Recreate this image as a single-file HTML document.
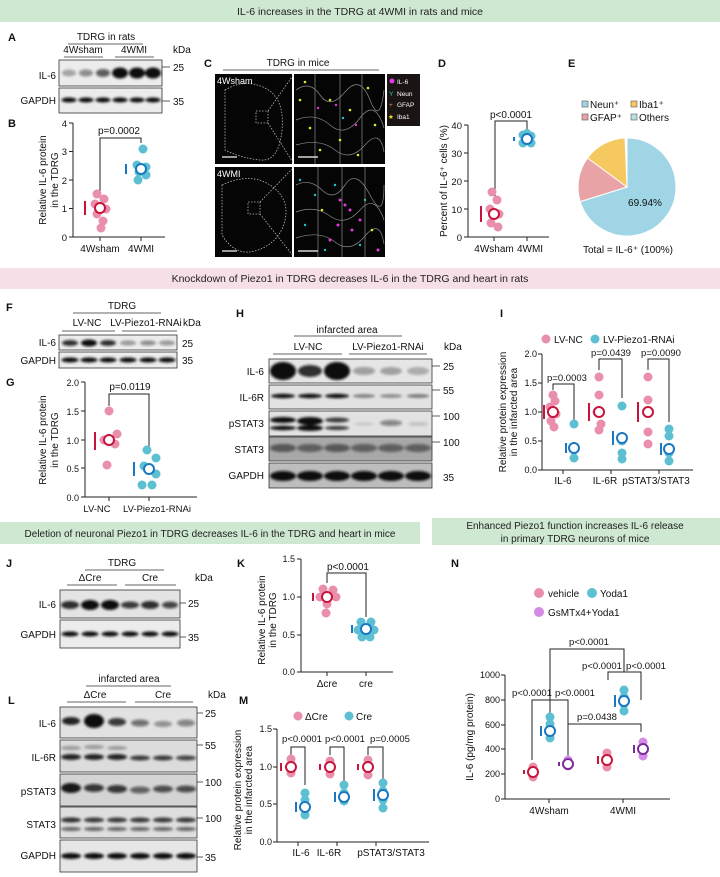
<!DOCTYPE html>
<html><head><meta charset="utf-8"><style>
html,body{margin:0;padding:0;background:#fff}
svg{display:block;font-family:"Liberation Sans",Arial,sans-serif}
</style></head><body>
<svg width="720" height="877" viewBox="0 0 720 877" xmlns="http://www.w3.org/2000/svg">
<defs>
<filter id="bl" x="-50%" y="-100%" width="200%" height="300%"><feGaussianBlur stdDeviation="1.3"/></filter>
</defs>
<rect x="0" y="0" width="720" height="22" fill="#cfe8d1"/>
<text x="360" y="15" font-size="10.5" text-anchor="middle" fill="#222">IL-6 increases in the TDRG at 4WMI in rats and mice</text>
<rect x="0" y="268" width="720" height="21" fill="#f7dfe7"/>
<text x="350" y="282" font-size="10.5" text-anchor="middle" fill="#222">Knockdown of Piezo1 in TDRG decreases IL-6 in the TDRG and heart in rats</text>
<rect x="0" y="522" width="420" height="22" fill="#cfe8d1"/>
<text x="210" y="537" font-size="10" text-anchor="middle" fill="#222">Deletion of neuronal Piezo1 in TDRG decreases IL-6 in the TDRG and heart in mice</text>
<rect x="432" y="518" width="288" height="27" fill="#cfe8d1"/>
<text x="575" y="529" font-size="10" text-anchor="middle" fill="#222">Enhanced Piezo1 function increases IL-6 release</text>
<text x="575" y="542" font-size="10" text-anchor="middle" fill="#222">in primary TDRG neurons of mice</text>

<g font-size="10" fill="#111">
<g font-weight="bold" font-size="11">
<text x="8" y="41">A</text><text x="8" y="127">B</text><text x="204" y="67">C</text><text x="438" y="67">D</text><text x="568" y="67">E</text>
<text x="6" y="311">F</text><text x="6" y="386">G</text><text x="236" y="317">H</text><text x="500" y="317">I</text>
<text x="6" y="567">J</text><text x="237" y="567">K</text><text x="8" y="704">L</text><text x="239" y="704">M</text><text x="451" y="567">N</text>
</g>

<!-- A blot -->
<text x="106" y="40" text-anchor="middle">TDRG in rats</text>
<line x1="68" y1="44" x2="143" y2="44" stroke="#333" stroke-width=".8"/>
<text x="83" y="53" text-anchor="middle">4Wsham</text><text x="134" y="53" text-anchor="middle">4WMI</text>
<line x1="64" y1="57" x2="103" y2="57" stroke="#333" stroke-width=".8"/><line x1="115" y1="57" x2="154" y2="57" stroke="#333" stroke-width=".8"/>
<text x="173" y="53">kDa</text>
<rect x="59" y="60" width="103" height="26" fill="#ececec" stroke="#333" stroke-width=".8"/>
<rect x="59" y="88" width="103" height="25" fill="#ececec" stroke="#333" stroke-width=".8"/>
<g filter="url(#bl)" fill="#111">
<ellipse cx="69" cy="73" rx="7" ry="3.5" opacity=".3"/><ellipse cx="86" cy="73" rx="7" ry="3.5" opacity=".45"/><ellipse cx="103" cy="73" rx="7" ry="4" opacity=".65"/>
<ellipse cx="120" cy="73" rx="8" ry="5.5"/><ellipse cx="137" cy="73" rx="8" ry="5.5"/><ellipse cx="153" cy="73" rx="8" ry="5.5"/>
<ellipse cx="69" cy="100" rx="7.5" ry="2.5"/><ellipse cx="86" cy="100" rx="7.5" ry="2.5"/><ellipse cx="103" cy="100" rx="7.5" ry="2.5"/><ellipse cx="120" cy="100" rx="7.5" ry="2.5"/><ellipse cx="137" cy="100" rx="7.5" ry="2.5"/><ellipse cx="153" cy="100" rx="7.5" ry="2.5"/>
</g>
<text x="56" y="79" text-anchor="end">IL-6</text><text x="56" y="104" text-anchor="end">GAPDH</text>
<line x1="162" y1="67" x2="170" y2="67" stroke="#333" stroke-width=".8"/><text x="173" y="71">25</text>
<line x1="162" y1="101" x2="170" y2="101" stroke="#333" stroke-width=".8"/><text x="173" y="105">35</text>

<!-- B chart -->
<g stroke="#222" stroke-width="1" fill="none">
<path d="M73 123V237H165"/>
<path d="M69 123H73M69 151.5H73M69 180H73M69 208.5H73M69 237H73M100 237V241M141 237V241"/>
<path d="M100 197V138H141V143"/>
</g>
<g font-size="9.5" text-anchor="end"><text x="67" y="127">4</text><text x="67" y="155">3</text><text x="67" y="184">2</text><text x="67" y="212">1</text><text x="67" y="241">0</text></g>
<text x="100" y="252" text-anchor="middle">4Wsham</text><text x="141" y="252" text-anchor="middle">4WMI</text>
<text x="119" y="134" text-anchor="middle">p=0.0002</text>
<text transform="translate(46,180) rotate(-90)" text-anchor="middle">Relative IL-6 protein</text>
<text transform="translate(58,180) rotate(-90)" text-anchor="middle">in the TDRG</text>
<g fill="#e98fab"><circle cx="97" cy="194" r="4.5"/><circle cx="104" cy="199" r="4.5"/><circle cx="95" cy="204" r="4.5"/><circle cx="106" cy="209" r="4.5"/><circle cx="97" cy="214" r="4.5"/><circle cx="103" cy="221" r="4.5"/><circle cx="101" cy="228" r="4.5"/></g>
<g fill="#5cc0d2"><circle cx="143" cy="149" r="4.5"/><circle cx="137" cy="165" r="4.5"/><circle cx="146" cy="167" r="4.5"/><circle cx="139" cy="172" r="4.5"/><circle cx="146" cy="175" r="4.5"/><circle cx="138" cy="180" r="4.5"/></g>
<circle cx="100" cy="208" r="5" fill="#fff" stroke="#c8143c" stroke-width="2"/><line x1="85" y1="201" x2="85" y2="215" stroke="#c8143c" stroke-width="2"/>
<circle cx="141" cy="169" r="5" fill="#fff" stroke="#1a78c2" stroke-width="2"/><line x1="126" y1="164" x2="126" y2="174" stroke="#1a78c2" stroke-width="2"/>

<!-- C images -->
<text x="298" y="66" text-anchor="middle">TDRG in mice</text>
<line x1="223" y1="70" x2="379" y2="70" stroke="#333" stroke-width=".8"/>
<rect x="215" y="74" width="77" height="90" fill="#050505"/>
<rect x="294" y="74" width="91" height="90" fill="#050505"/>
<rect x="215" y="167" width="77" height="90" fill="#050505"/>
<rect x="294" y="167" width="91" height="90" fill="#050505"/>
<g fill="none" stroke="#bbb" stroke-width=".8" stroke-dasharray="1.5,1.5">
<path d="M225 90Q245 78 265 88T282 130T260 160T225 150Z"/>
<path d="M222 185Q250 172 270 185T285 220T258 250T222 235Z"/>
<rect x="256" y="111" width="12" height="12"/><rect x="248" y="202" width="12" height="12"/>
<path d="M268 111L294 74M268 123L294 164M260 202L294 167M260 214L294 257"/>
</g>
<g stroke="#8a8a8a" stroke-width=".7" fill="none">
<path d="M296 90Q310 80 320 95T345 92T370 100T384 90M296 120Q315 112 330 125T360 118T384 128M296 145Q320 138 335 150T365 145T384 152M315 74V164M340 74V164M362 74V164"/>
<path d="M296 185Q310 178 322 190T345 185T370 195T384 185M296 212Q315 205 330 216T360 210T384 220M296 238Q320 230 335 242T365 236T384 244M318 167V257M342 167V257M365 167V257"/>
</g>
<g fill="#e6e62a"><circle cx="305" cy="82" r="1.3"/><circle cx="330" cy="100" r="1.3"/><circle cx="350" cy="110" r="1.3"/><circle cx="368" cy="88" r="1.3"/><circle cx="310" cy="128" r="1.3"/><circle cx="340" cy="140" r="1.3"/><circle cx="375" cy="125" r="1.3"/><circle cx="320" cy="150" r="1.3"/><circle cx="358" cy="155" r="1.3"/><circle cx="300" cy="100" r="1.3"/><circle cx="322" cy="210" r="1.3"/><circle cx="372" cy="230" r="1.3"/></g>
<g fill="#e03ae0"><circle cx="318" cy="108" r="1.2"/><circle cx="336" cy="105" r="1.2"/><circle cx="356" cy="125" r="1.2"/><circle cx="340" cy="200" r="1.5"/><circle cx="345" cy="205" r="1.5"/><circle cx="350" cy="210" r="1.5"/><circle cx="352" cy="230" r="1.5"/><circle cx="330" cy="240" r="1.5"/><circle cx="360" cy="220" r="1.5"/><circle cx="378" cy="250" r="1.5"/><circle cx="338" cy="225" r="1.5"/></g>
<g fill="#20c8c8"><circle cx="300" cy="180" r="1.2"/><circle cx="315" cy="195" r="1.2"/><circle cx="335" cy="185" r="1.2"/><circle cx="365" cy="200" r="1.2"/><circle cx="305" cy="225" r="1.2"/><circle cx="325" cy="250" r="1.2"/><circle cx="360" cy="245" r="1.2"/><circle cx="343" cy="118" r="1.2"/></g>
<text x="217" y="84" fill="#fff" font-size="9">4Wsham</text><text x="217" y="177" fill="#fff" font-size="9">4WMI</text>
<g stroke="#fff" stroke-width="1.2"><line x1="222" y1="157" x2="237" y2="157"/><line x1="222" y1="251" x2="237" y2="251"/><line x1="298" y1="157" x2="318" y2="157"/><line x1="298" y1="251" x2="318" y2="251"/></g>
<rect x="387" y="74" width="33" height="52" fill="#1a1412"/>
<g font-size="6.5" fill="#fff"><circle cx="392" cy="81" r="2.5" fill="#e03ae0"/><text x="397" y="84">IL-6</text>
<text x="389" y="96" fill="#20c8c8">Y</text><text x="397" y="96">Neun</text>
<text x="389" y="107" fill="#e88a6a">+</text><text x="397" y="107">GFAP</text>
<text x="388" y="119" fill="#f0e020">★</text><text x="397" y="119">Iba1</text></g>

<!-- D chart -->
<g stroke="#222" stroke-width="1" fill="none">
<path d="M468 125V237H549"/>
<path d="M464 125H468M464 153H468M464 181H468M464 209H468M464 237H468M494 237V241M527 237V241"/>
<path d="M495 200V121H527V130"/>
</g>
<g font-size="9.5" text-anchor="end"><text x="462" y="129">40</text><text x="462" y="157">30</text><text x="462" y="185">20</text><text x="462" y="213">10</text><text x="462" y="241">0</text></g>
<text x="494" y="252" text-anchor="middle">4Wsham</text><text x="530" y="252" text-anchor="middle">4WMI</text>
<text x="511" y="118" text-anchor="middle">p&lt;0.0001</text>
<text transform="translate(447,181) rotate(-90)" text-anchor="middle">Percent of IL-6⁺ cells (%)</text>
<g fill="#e98fab"><circle cx="492" cy="192" r="4.5"/><circle cx="497" cy="200" r="4.5"/><circle cx="490" cy="209" r="4.5"/><circle cx="499" cy="214" r="4.5"/><circle cx="491" cy="223" r="4.5"/><circle cx="498" cy="227" r="4.5"/></g>
<g fill="#5cc0d2"><circle cx="523" cy="135" r="4.5"/><circle cx="531" cy="136" r="4.5"/><circle cx="523" cy="143" r="4.5"/><circle cx="531" cy="143" r="4.5"/><circle cx="527" cy="133" r="4"/></g>
<circle cx="494" cy="214" r="5" fill="#fff" stroke="#c8143c" stroke-width="2"/><line x1="481" y1="206" x2="481" y2="222" stroke="#c8143c" stroke-width="2"/>
<circle cx="527" cy="139" r="5" fill="#fff" stroke="#1a78c2" stroke-width="2"/><line x1="514" y1="137" x2="514" y2="141" stroke="#1a78c2" stroke-width="2"/>

<!-- E pie -->
<g font-size="10">
<rect x="582" y="101" width="6" height="6" fill="#9fd4e4" stroke="#555" stroke-width=".6"/><text x="590" y="108">Neun⁺</text>
<rect x="631" y="101" width="6" height="6" fill="#f5c860" stroke="#555" stroke-width=".6"/><text x="639" y="108">Iba1⁺</text>
<rect x="582" y="114" width="6" height="6" fill="#e9a3a6" stroke="#555" stroke-width=".6"/><text x="590" y="121">GFAP⁺</text>
<rect x="631" y="114" width="6" height="6" fill="#b9dfe0" stroke="#555" stroke-width=".6"/><text x="639" y="121">Others</text>
</g>
<path d="M627 187L627 138A49 49 0 1 1 580.2 201.6Z" fill="#a0d5e5" stroke="#fff" stroke-width="1"/>
<path d="M627 187L580.2 201.6A49 49 0 0 1 587.6 158.0Z" fill="#e9a3a6" stroke="#fff" stroke-width="1"/>
<path d="M627 187L587.6 158.0A49 49 0 0 1 625 138Z" fill="#f5c860" stroke="#fff" stroke-width="1"/>
<text x="645" y="206" text-anchor="middle">69.94%</text>
<text x="628" y="253" text-anchor="middle">Total = IL-6⁺ (100%)</text>

<!-- F blot -->
<text x="122" y="309" text-anchor="middle">TDRG</text>
<line x1="73" y1="313" x2="161" y2="313" stroke="#333" stroke-width=".8"/>
<text x="87" y="326" text-anchor="middle">LV-NC</text><text x="146" y="326" text-anchor="middle">LV-Piezo1-RNAi</text><text x="183" y="326">kDa</text>
<line x1="62" y1="331" x2="115" y2="331" stroke="#333" stroke-width=".8"/><line x1="122" y1="331" x2="177" y2="331" stroke="#333" stroke-width=".8"/>
<rect x="59" y="335" width="118" height="15" fill="#ececec" stroke="#333" stroke-width=".8"/>
<rect x="59" y="352" width="118" height="16" fill="#ececec" stroke="#333" stroke-width=".8"/>
<g filter="url(#bl)" fill="#111">
<ellipse cx="70" cy="343" rx="8" ry="3" opacity=".85"/><ellipse cx="89" cy="343" rx="8" ry="3.5"/><ellipse cx="108" cy="343" rx="8" ry="3" opacity=".85"/><ellipse cx="128" cy="343" rx="8" ry="2.5" opacity=".4"/><ellipse cx="148" cy="343" rx="8" ry="2.5" opacity=".45"/><ellipse cx="167" cy="343" rx="8" ry="2.5" opacity=".4"/>
<ellipse cx="70" cy="360" rx="8.5" ry="2.5"/><ellipse cx="89" cy="360" rx="8.5" ry="2.5"/><ellipse cx="108" cy="360" rx="8.5" ry="2.5"/><ellipse cx="128" cy="360" rx="8.5" ry="2.5"/><ellipse cx="148" cy="360" rx="8.5" ry="2.5"/><ellipse cx="167" cy="360" rx="8.5" ry="2.5"/>
</g>
<text x="56" y="346" text-anchor="end">IL-6</text><text x="56" y="364" text-anchor="end">GAPDH</text>
<text x="182" y="347">25</text><text x="182" y="364">35</text>

<!-- G chart -->
<g stroke="#222" stroke-width="1" fill="none">
<path d="M85 382V497H197"/>
<path d="M81 382H85M81 411H85M81 440H85M81 468H85M81 497H85M109 497V501M149 497V501"/>
<path d="M109 406V394H149V447"/>
</g>
<g font-size="9" text-anchor="end"><text x="79" y="386">2.0</text><text x="79" y="415">1.5</text><text x="79" y="444">1.0</text><text x="79" y="472">0.5</text><text x="79" y="501">0.0</text></g>
<text x="97" y="512" text-anchor="middle" font-size="9.5">LV-NC</text><text x="157" y="512" text-anchor="middle" font-size="9.5">LV-Piezo1-RNAi</text>
<text x="130" y="390" text-anchor="middle">p=0.0119</text>
<text transform="translate(46,440) rotate(-90)" text-anchor="middle">Relative IL-6  protein</text>
<text transform="translate(58,440) rotate(-90)" text-anchor="middle">in the TDRG</text>
<g fill="#e98fab"><circle cx="109" cy="411" r="4.5"/><circle cx="117" cy="434" r="4.5"/><circle cx="104" cy="440" r="4.5"/><circle cx="115" cy="444" r="4.5"/><circle cx="107" cy="465" r="4.5"/></g>
<g fill="#5cc0d2"><circle cx="147" cy="450" r="4.5"/><circle cx="156" cy="458" r="4.5"/><circle cx="144" cy="466" r="4.5"/><circle cx="156" cy="474" r="4.5"/><circle cx="142" cy="485" r="4.5"/><circle cx="152" cy="485" r="4.5"/></g>
<circle cx="109" cy="440" r="5" fill="#fff" stroke="#c8143c" stroke-width="2"/><line x1="95" y1="432" x2="95" y2="450" stroke="#c8143c" stroke-width="2"/>
<circle cx="149" cy="469" r="5" fill="#fff" stroke="#1a78c2" stroke-width="2"/><line x1="134" y1="462" x2="134" y2="476" stroke="#1a78c2" stroke-width="2"/>

<!-- H blot -->
<text x="347" y="333" text-anchor="middle">infarcted area</text>
<line x1="294" y1="336" x2="402" y2="336" stroke="#333" stroke-width=".8"/>
<text x="308" y="350" text-anchor="middle">LV-NC</text><text x="388" y="350" text-anchor="middle">LV-Piezo1-RNAi</text><text x="444" y="350">kDa</text>
<line x1="273" y1="354" x2="342" y2="354" stroke="#333" stroke-width=".8"/><line x1="349" y1="354" x2="427" y2="354" stroke="#333" stroke-width=".8"/>
<rect x="269" y="359" width="163" height="24" fill="#e6e6e6" stroke="#333" stroke-width=".8"/>
<rect x="269" y="385" width="163" height="24" fill="#e2e2e2" stroke="#333" stroke-width=".8"/>
<rect x="269" y="411" width="163" height="25" fill="#e2e2e2" stroke="#333" stroke-width=".8"/>
<rect x="269" y="437" width="163" height="24" fill="#a8a8a8" stroke="#333" stroke-width=".8"/>
<rect x="269" y="463" width="163" height="25" fill="#bdbdbd" stroke="#333" stroke-width=".8"/>
<g filter="url(#bl)" fill="#111">
<ellipse cx="283" cy="371" rx="13" ry="9"/><ellipse cx="310" cy="371" rx="12" ry="6" opacity=".85"/><ellipse cx="337" cy="371" rx="13" ry="9"/><ellipse cx="364" cy="371" rx="11" ry="4" opacity=".35"/><ellipse cx="391" cy="371" rx="11" ry="4" opacity=".3"/><ellipse cx="418" cy="371" rx="11" ry="4" opacity=".25"/>
<ellipse cx="283" cy="396" rx="12" ry="2.2"/><ellipse cx="310" cy="396" rx="12" ry="2.2"/><ellipse cx="337" cy="396" rx="12" ry="2.2"/><ellipse cx="364" cy="396" rx="11" ry="1.8" opacity=".5"/><ellipse cx="391" cy="396" rx="11" ry="1.8" opacity=".45"/><ellipse cx="418" cy="396" rx="11" ry="1.8" opacity=".55"/>
<ellipse cx="283" cy="420" rx="13" ry="3"/><ellipse cx="310" cy="421" rx="13" ry="4"/><ellipse cx="337" cy="420" rx="12" ry="2.5" opacity=".8"/><ellipse cx="283" cy="428" rx="13" ry="2.2"/><ellipse cx="310" cy="428" rx="13" ry="3"/><ellipse cx="337" cy="428" rx="12" ry="2" opacity=".8"/>
<ellipse cx="364" cy="424" rx="10" ry="2" opacity=".1"/><ellipse cx="391" cy="423" rx="11" ry="3" opacity=".45"/><ellipse cx="418" cy="424" rx="10" ry="2" opacity=".15"/>
<ellipse cx="283" cy="448" rx="13" ry="4" opacity=".55"/><ellipse cx="310" cy="448" rx="13" ry="4" opacity=".5"/><ellipse cx="337" cy="448" rx="13" ry="4" opacity=".55"/><ellipse cx="364" cy="448" rx="13" ry="4" opacity=".5"/><ellipse cx="391" cy="448" rx="13" ry="4" opacity=".5"/><ellipse cx="418" cy="448" rx="13" ry="4" opacity=".5"/>
<ellipse cx="283" cy="476" rx="13" ry="5"/><ellipse cx="310" cy="476" rx="13" ry="5"/><ellipse cx="337" cy="476" rx="13" ry="5"/><ellipse cx="364" cy="476" rx="13" ry="5"/><ellipse cx="391" cy="476" rx="13" ry="5"/><ellipse cx="418" cy="476" rx="13" ry="5"/>
</g>
<g text-anchor="end"><text x="264" y="375">IL-6</text><text x="264" y="401">IL-6R</text><text x="264" y="427">pSTAT3</text><text x="264" y="453">STAT3</text><text x="264" y="479">GAPDH</text></g>
<g stroke="#333" stroke-width=".8"><line x1="432" y1="366" x2="440" y2="366"/><line x1="432" y1="390" x2="440" y2="390"/><line x1="432" y1="416" x2="440" y2="416"/><line x1="432" y1="442" x2="440" y2="442"/></g>
<text x="443" y="370">25</text><text x="443" y="394">55</text><text x="443" y="420">100</text><text x="443" y="446">100</text><text x="443" y="481">35</text>

<!-- I chart -->
<circle cx="546" cy="339" r="4.5" fill="#e98fab"/><text x="554" y="343">LV-NC</text>
<circle cx="595" cy="339" r="4.5" fill="#5cc0d2"/><text x="603" y="343">LV-Piezo1-RNAi</text>
<g stroke="#222" stroke-width="1" fill="none">
<path d="M542 354V470H693"/>
<path d="M538 354H542M538 383H542M538 412H542M538 441H542M538 470H542M563 470V474M611 470V474M659 470V474"/>
<path d="M553 390V384H574V420M599 370V359H622V398M648 370V359H669V422"/>
</g>
<g font-size="9" text-anchor="end"><text x="537" y="357">2.0</text><text x="537" y="386">1.5</text><text x="537" y="415">1.0</text><text x="537" y="444">0.5</text><text x="537" y="473">0.0</text></g>
<text x="563" y="484" text-anchor="middle">IL-6</text><text x="605" y="484" text-anchor="middle">IL-6R</text><text x="656" y="484" text-anchor="middle">pSTAT3/STAT3</text>
<g font-size="9.5" text-anchor="middle"><text x="567" y="381">p=0.0003</text><text x="611" y="356">p=0.0439</text><text x="661" y="356">p=0.0090</text></g>
<text transform="translate(506,412) rotate(-90)" text-anchor="middle">Relative  protein expression</text>
<text transform="translate(517,412) rotate(-90)" text-anchor="middle">in the infarcted area</text>
<g fill="#e98fab"><circle cx="553" cy="395" r="4.5"/><circle cx="555" cy="401" r="4.5"/><circle cx="550" cy="407" r="4.5"/><circle cx="556" cy="414" r="4.5"/><circle cx="551" cy="421" r="4.5"/><circle cx="554" cy="427" r="4.5"/>
<circle cx="599" cy="377" r="4.5"/><circle cx="599" cy="395" r="4.5"/><circle cx="597" cy="412" r="4.5"/><circle cx="601" cy="424" r="4.5"/><circle cx="599" cy="430" r="4.5"/>
<circle cx="648" cy="377" r="4.5"/><circle cx="648" cy="400" r="4.5"/><circle cx="648" cy="432" r="4.5"/><circle cx="648" cy="444" r="4.5"/></g>
<g fill="#5cc0d2"><circle cx="574" cy="424" r="4.5"/><circle cx="574" cy="450" r="4.5"/><circle cx="574" cy="458" r="4.5"/>
<circle cx="622" cy="406" r="4.5"/><circle cx="622" cy="441" r="4.5"/><circle cx="622" cy="453" r="4.5"/><circle cx="622" cy="459" r="4.5"/>
<circle cx="669" cy="429" r="4.5"/><circle cx="669" cy="436" r="4.5"/><circle cx="669" cy="453" r="4.5"/><circle cx="669" cy="461" r="4.5"/></g>
<g fill="#fff" stroke="#c8143c" stroke-width="2"><circle cx="553" cy="412" r="5"/><circle cx="599" cy="412" r="5"/><circle cx="648" cy="412" r="5"/></g>
<g stroke="#c8143c" stroke-width="2"><line x1="544" y1="405" x2="544" y2="419"/><line x1="589" y1="403" x2="589" y2="421"/><line x1="638" y1="402" x2="638" y2="422"/></g>
<g fill="#fff" stroke="#1a78c2" stroke-width="2"><circle cx="574" cy="448" r="5"/><circle cx="622" cy="438" r="5"/><circle cx="669" cy="449" r="5"/></g>
<g stroke="#1a78c2" stroke-width="2"><line x1="566" y1="443" x2="566" y2="453"/><line x1="613" y1="431" x2="613" y2="445"/><line x1="661" y1="443" x2="661" y2="455"/></g>

<!-- J blot -->
<text x="122" y="566" text-anchor="middle">TDRG</text>
<line x1="85" y1="570" x2="164" y2="570" stroke="#333" stroke-width=".8"/>
<text x="90" y="581" text-anchor="middle">ΔCre</text><text x="150" y="581" text-anchor="middle">Cre</text><text x="195" y="581">kDa</text>
<line x1="67" y1="585" x2="117" y2="585" stroke="#333" stroke-width=".8"/><line x1="125" y1="585" x2="176" y2="585" stroke="#333" stroke-width=".8"/>
<rect x="60" y="590" width="120" height="28" fill="#e4e4e4" stroke="#333" stroke-width=".8"/>
<rect x="60" y="620" width="120" height="28" fill="#ececec" stroke="#333" stroke-width=".8"/>
<g filter="url(#bl)" fill="#111">
<ellipse cx="70" cy="605" rx="9" ry="4" opacity=".85"/><ellipse cx="90" cy="605" rx="9" ry="5"/><ellipse cx="110" cy="605" rx="9" ry="5"/><ellipse cx="130" cy="605" rx="9" ry="3.5" opacity=".8"/><ellipse cx="150" cy="605" rx="9" ry="4" opacity=".85"/><ellipse cx="170" cy="605" rx="8" ry="3.5" opacity=".75"/>
<ellipse cx="70" cy="634" rx="8.5" ry="2.5"/><ellipse cx="90" cy="634" rx="8.5" ry="2.5"/><ellipse cx="110" cy="634" rx="8.5" ry="2.5"/><ellipse cx="130" cy="634" rx="8.5" ry="2.5"/><ellipse cx="150" cy="634" rx="8.5" ry="2.5"/><ellipse cx="170" cy="634" rx="8.5" ry="2.5"/>
</g>
<text x="56" y="608" text-anchor="end">IL-6</text><text x="56" y="638" text-anchor="end">GAPDH</text>
<line x1="180" y1="603" x2="186" y2="603" stroke="#333" stroke-width=".8"/><text x="188" y="607">25</text>
<line x1="180" y1="637" x2="186" y2="637" stroke="#333" stroke-width=".8"/><text x="188" y="641">35</text>

<!-- K chart -->
<g stroke="#222" stroke-width="1" fill="none">
<path d="M301 559V672H393"/>
<path d="M297 559H301M297 597H301M297 635H301M297 672H301M327 672V676M366 672V676"/>
<path d="M327 583V573H366V617"/>
</g>
<g font-size="9" text-anchor="end"><text x="295" y="562">1.5</text><text x="295" y="600">1.0</text><text x="295" y="638">0.5</text><text x="295" y="675">0.0</text></g>
<text x="327" y="687" text-anchor="middle">Δcre</text><text x="366" y="687" text-anchor="middle">cre</text>
<text x="348" y="570" text-anchor="middle">p&lt;0.0001</text>
<text transform="translate(265,620) rotate(-90)" text-anchor="middle">Relative IL-6 protein</text>
<text transform="translate(276,620) rotate(-90)" text-anchor="middle">in the TDRG</text>
<g fill="#e98fab"><circle cx="323" cy="589" r="4.5"/><circle cx="333" cy="590" r="4.5"/><circle cx="320" cy="597" r="4.5"/><circle cx="336" cy="597" r="4.5"/><circle cx="327" cy="604" r="4.5"/><circle cx="326" cy="613" r="4.5"/></g>
<g fill="#5cc0d2"><circle cx="361" cy="622" r="4.5"/><circle cx="371" cy="622" r="4.5"/><circle cx="358" cy="630" r="4.5"/><circle cx="374" cy="630" r="4.5"/><circle cx="362" cy="637" r="4.5"/><circle cx="370" cy="637" r="4.5"/></g>
<circle cx="327" cy="597" r="5" fill="#fff" stroke="#c8143c" stroke-width="2"/><line x1="313" y1="593" x2="313" y2="601" stroke="#c8143c" stroke-width="2"/>
<circle cx="366" cy="629" r="5" fill="#fff" stroke="#1a78c2" stroke-width="2"/><line x1="352" y1="625" x2="352" y2="633" stroke="#1a78c2" stroke-width="2"/>

<!-- L blot -->
<text x="129" y="682" text-anchor="middle">infarcted area</text>
<line x1="86" y1="686" x2="171" y2="686" stroke="#333" stroke-width=".8"/>
<text x="95" y="698" text-anchor="middle">ΔCre</text><text x="163" y="698" text-anchor="middle">Cre</text><text x="208" y="698">kDa</text>
<line x1="67" y1="702" x2="126" y2="702" stroke="#333" stroke-width=".8"/><line x1="135" y1="702" x2="193" y2="702" stroke="#333" stroke-width=".8"/>
<rect x="60" y="707" width="137" height="31" fill="#e2e2e2" stroke="#333" stroke-width=".8"/>
<rect x="60" y="740" width="137" height="32" fill="#dcdcdc" stroke="#333" stroke-width=".8"/>
<rect x="60" y="774" width="137" height="32" fill="#d4d4d4" stroke="#333" stroke-width=".8"/>
<rect x="60" y="807" width="137" height="31" fill="#dedede" stroke="#333" stroke-width=".8"/>
<rect x="60" y="840" width="137" height="32" fill="#e6e6e6" stroke="#333" stroke-width=".8"/>
<g filter="url(#bl)" fill="#111">
<ellipse cx="71" cy="721" rx="9" ry="4" opacity=".9"/><ellipse cx="94" cy="721" rx="10" ry="7"/><ellipse cx="117" cy="722" rx="9" ry="4" opacity=".8"/><ellipse cx="140" cy="723" rx="9" ry="3.5" opacity=".55"/><ellipse cx="163" cy="724" rx="9" ry="3" opacity=".4"/><ellipse cx="186" cy="723" rx="9" ry="3.5" opacity=".45"/>
<ellipse cx="71" cy="748" rx="10" ry="2" opacity=".35"/><ellipse cx="94" cy="747" rx="10" ry="2" opacity=".35"/><ellipse cx="117" cy="748" rx="10" ry="2" opacity=".3"/>
<ellipse cx="71" cy="757" rx="10" ry="3" opacity=".9"/><ellipse cx="94" cy="757" rx="10" ry="3" opacity=".9"/><ellipse cx="117" cy="757" rx="10" ry="3" opacity=".9"/><ellipse cx="140" cy="758" rx="10" ry="2.5" opacity=".8"/><ellipse cx="163" cy="758" rx="10" ry="2.5" opacity=".8"/><ellipse cx="186" cy="758" rx="10" ry="2.5" opacity=".75"/>
<ellipse cx="71" cy="788" rx="10" ry="5" opacity=".95"/><ellipse cx="94" cy="788" rx="10" ry="4" opacity=".8"/><ellipse cx="117" cy="789" rx="10" ry="4" opacity=".8"/><ellipse cx="140" cy="790" rx="10" ry="3.5" opacity=".6"/><ellipse cx="163" cy="789" rx="10" ry="3.5" opacity=".7"/><ellipse cx="186" cy="789" rx="10" ry="3.5" opacity=".7"/>
<ellipse cx="71" cy="820" rx="10" ry="2.5" opacity=".85"/><ellipse cx="94" cy="820" rx="10" ry="2.5" opacity=".8"/><ellipse cx="117" cy="820" rx="10" ry="2.5" opacity=".8"/><ellipse cx="140" cy="820" rx="10" ry="2.5" opacity=".8"/><ellipse cx="163" cy="820" rx="10" ry="2.5" opacity=".8"/><ellipse cx="186" cy="820" rx="10" ry="2.5" opacity=".8"/>
<ellipse cx="71" cy="829" rx="10" ry="2" opacity=".6"/><ellipse cx="94" cy="829" rx="10" ry="2" opacity=".6"/><ellipse cx="117" cy="829" rx="10" ry="2" opacity=".6"/><ellipse cx="140" cy="829" rx="10" ry="2" opacity=".6"/><ellipse cx="163" cy="829" rx="10" ry="2" opacity=".6"/><ellipse cx="186" cy="829" rx="10" ry="2" opacity=".6"/>
<ellipse cx="71" cy="856" rx="10" ry="3"/><ellipse cx="94" cy="856" rx="10" ry="3"/><ellipse cx="117" cy="856" rx="10" ry="3"/><ellipse cx="140" cy="856" rx="10" ry="3"/><ellipse cx="163" cy="856" rx="10" ry="3"/><ellipse cx="186" cy="856" rx="10" ry="3"/>
</g>
<g text-anchor="end"><text x="56" y="727">IL-6</text><text x="56" y="761">IL-6R</text><text x="56" y="795">pSTAT3</text><text x="56" y="828">STAT3</text><text x="56" y="859">GAPDH</text></g>
<g stroke="#333" stroke-width=".8"><line x1="197" y1="713" x2="203" y2="713"/><line x1="197" y1="745" x2="203" y2="745"/><line x1="197" y1="782" x2="203" y2="782"/><line x1="197" y1="818" x2="203" y2="818"/><line x1="197" y1="857" x2="203" y2="857"/></g>
<text x="205" y="717">25</text><text x="205" y="749">55</text><text x="205" y="786">100</text><text x="205" y="822">100</text><text x="205" y="861">35</text>

<!-- M chart -->
<circle cx="298" cy="716" r="4.5" fill="#e98fab"/><text x="305" y="720">ΔCre</text>
<circle cx="349" cy="716" r="4.5" fill="#5cc0d2"/><text x="356" y="720">Cre</text>
<g stroke="#222" stroke-width="1" fill="none">
<path d="M277 729V842H429"/>
<path d="M273 729H277M273 767H277M273 804H277M273 842H277M298 842V846M337 842V846M376 842V846"/>
<path d="M291 755V747H305V785M330 755V747H344V785M368 755V747H383V785"/>
</g>
<g font-size="9" text-anchor="end"><text x="272" y="732">1.5</text><text x="272" y="770">1.0</text><text x="272" y="807">0.5</text><text x="272" y="845">0.0</text></g>
<text x="301" y="856" text-anchor="middle">IL-6</text><text x="329" y="856" text-anchor="middle">IL-6R</text><text x="391" y="856" text-anchor="middle">pSTAT3/STAT3</text>
<g font-size="9.5" text-anchor="middle"><text x="302" y="742">p&lt;0.0001</text><text x="345" y="742">p&lt;0.0001</text><text x="390" y="742">p=0.0005</text></g>
<text transform="translate(241,790) rotate(-90)" text-anchor="middle">Relative protein expression</text>
<text transform="translate(252,790) rotate(-90)" text-anchor="middle">in the infarcted area</text>
<g fill="#e98fab"><circle cx="291" cy="759" r="4.5"/><circle cx="291" cy="766" r="4.5"/><circle cx="291" cy="773" r="4.5"/><circle cx="330" cy="761" r="4.5"/><circle cx="330" cy="768" r="4.5"/><circle cx="330" cy="774" r="4.5"/><circle cx="368" cy="760" r="4.5"/><circle cx="368" cy="767" r="4.5"/><circle cx="368" cy="775" r="4.5"/></g>
<g fill="#5cc0d2"><circle cx="305" cy="793" r="4.5"/><circle cx="305" cy="800" r="4.5"/><circle cx="305" cy="808" r="4.5"/><circle cx="305" cy="815" r="4.5"/><circle cx="344" cy="785" r="4.5"/><circle cx="344" cy="793" r="4.5"/><circle cx="344" cy="801" r="4.5"/><circle cx="383" cy="783" r="4.5"/><circle cx="383" cy="791" r="4.5"/><circle cx="383" cy="800" r="4.5"/><circle cx="383" cy="808" r="4.5"/></g>
<g fill="#fff" stroke="#c8143c" stroke-width="2"><circle cx="291" cy="767" r="5"/><circle cx="330" cy="767" r="5"/><circle cx="368" cy="767" r="5"/></g>
<g stroke="#c8143c" stroke-width="2"><line x1="281" y1="763" x2="281" y2="771"/><line x1="320" y1="764" x2="320" y2="770"/><line x1="358" y1="764" x2="358" y2="770"/></g>
<g fill="#fff" stroke="#1a78c2" stroke-width="2"><circle cx="305" cy="807" r="5"/><circle cx="344" cy="797" r="5"/><circle cx="383" cy="795" r="5"/></g>
<g stroke="#1a78c2" stroke-width="2"><line x1="296" y1="802" x2="296" y2="812"/><line x1="335" y1="792" x2="335" y2="802"/><line x1="374" y1="789" x2="374" y2="801"/></g>

<!-- N chart -->
<circle cx="539" cy="593" r="5" fill="#e98fab"/><text x="548" y="597">vehicle</text>
<circle cx="592" cy="593" r="5" fill="#5cc0d2"/><text x="600" y="597">Yoda1</text>
<circle cx="539" cy="612" r="5" fill="#d58ae8"/><text x="548" y="616">GsMTx4+Yoda1</text>
<g stroke="#222" stroke-width="1" fill="none">
<path d="M505 675V799H670"/>
<path d="M501 675H505M501 700H505M501 725H505M501 749H505M501 774H505M501 799H505M549 799V803M623 799V803"/>
<path d="M550 725V649H624V672M608 680V672H641V700M532 760V700H568V757M568 735V724H641V732"/>
</g>
<g font-size="9" text-anchor="end"><text x="500" y="678">1000</text><text x="500" y="703">800</text><text x="500" y="728">600</text><text x="500" y="752">400</text><text x="500" y="777">200</text><text x="500" y="802">0</text></g>
<text x="549" y="814" text-anchor="middle">4Wsham</text><text x="623" y="814" text-anchor="middle">4WMI</text>
<g font-size="9.5" text-anchor="middle"><text x="589" y="645">p&lt;0.0001</text><text x="602" y="669">p&lt;0.0001</text><text x="646" y="669">p&lt;0.0001</text><text x="532" y="696">p&lt;0.0001</text><text x="575" y="696">p&lt;0.0001</text><text x="597" y="720">p=0.0438</text></g>
<text transform="translate(473,737) rotate(-90)" text-anchor="middle">IL-6 (pg/mg protein)</text>
<g fill="#e98fab"><circle cx="533" cy="767" r="4.5"/><circle cx="533" cy="772" r="4.5"/><circle cx="533" cy="777" r="4.5"/><circle cx="607" cy="753" r="4.5"/><circle cx="607" cy="760" r="4.5"/><circle cx="607" cy="767" r="4.5"/></g>
<g fill="#5cc0d2"><circle cx="550" cy="717" r="4.5"/><circle cx="550" cy="724" r="4.5"/><circle cx="550" cy="731" r="4.5"/><circle cx="550" cy="738" r="4.5"/><circle cx="624" cy="690" r="4.5"/><circle cx="624" cy="697" r="4.5"/><circle cx="624" cy="704" r="4.5"/><circle cx="624" cy="711" r="4.5"/></g>
<g fill="#d58ae8"><circle cx="568" cy="760" r="4.5"/><circle cx="568" cy="766" r="4.5"/><circle cx="643" cy="742" r="4.5"/><circle cx="643" cy="749" r="4.5"/><circle cx="643" cy="756" r="4.5"/></g>
<g fill="#fff" stroke-width="2"><circle cx="533" cy="772" r="5" stroke="#c8143c"/><circle cx="607" cy="760" r="5" stroke="#c8143c"/><circle cx="550" cy="731" r="5" stroke="#1a78c2"/><circle cx="624" cy="701" r="5" stroke="#1a78c2"/><circle cx="568" cy="764" r="5" stroke="#7a2a9a"/><circle cx="643" cy="749" r="5" stroke="#7a2a9a"/></g>
<g stroke-width="2"><line x1="524" y1="770" x2="524" y2="774" stroke="#c8143c"/><line x1="598" y1="756" x2="598" y2="764" stroke="#c8143c"/><line x1="541" y1="726" x2="541" y2="736" stroke="#1a78c2"/><line x1="615" y1="695" x2="615" y2="707" stroke="#1a78c2"/><line x1="559" y1="762" x2="559" y2="766" stroke="#7a2a9a"/><line x1="634" y1="745" x2="634" y2="753" stroke="#7a2a9a"/></g>
</g>
</svg>
</body></html>
